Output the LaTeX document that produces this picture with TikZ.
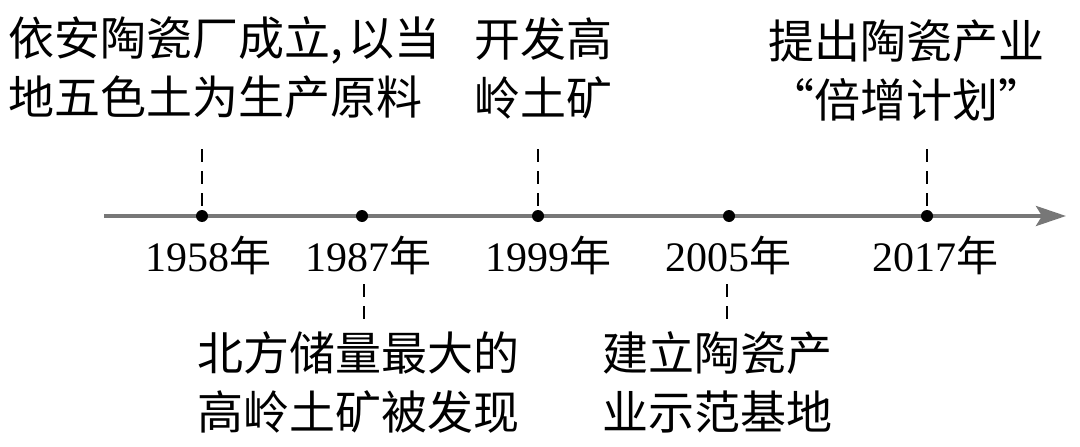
\documentclass[tikz,border=0pt]{standalone}
\usepackage{fontspec}
\setmainfont{Liberation Serif}
\newfontfamily\cjk{Noto Sans CJK SC}
\usetikzlibrary{arrows.meta}
\definecolor{axisgray}{HTML}{777777}
\begin{document}
\begin{tikzpicture}[x=1pt,y=-1pt,
  lbl/.style={font=\cjk\fontsize{46}{59}\selectfont, align=center, inner sep=0pt},
  yr/.style={font=\fontsize{42}{48}\selectfont, inner sep=0pt},
  dotmark/.style={circle, fill=black, inner sep=0pt, minimum size=12pt},
  guide/.style={dash pattern=on 13pt off 9pt, line width=2pt}]
\useasboundingbox (0,0) rectangle (1080,447);
\coordinate (s) at (104,216);
\coordinate (e) at (1066,216);
\draw[line width=4pt, axisgray, -{Stealth[length=30pt, width=20pt, inset=6pt]}] (s) -- (e);
% dots
\node[dotmark] (d1) at (202,216) {};
\node[dotmark] (d2) at (362,216) {};
\node[dotmark] (d3) at (538,216) {};
\node[dotmark] (d4) at (729,216) {};
\node[dotmark] (d5) at (927,216) {};
% years
\node[yr] (y1) at (208,255) {1958{\cjk 年}};
\node[yr] (y2) at (368,255) {1987{\cjk 年}};
\node[yr] (y3) at (548,255) {1999{\cjk 年}};
\node[yr] (y4) at (728,255) {2005{\cjk 年}};
\node[yr] (y5) at (935,255) {2017{\cjk 年}};
% top labels
\node[lbl, align=left, anchor=west] (t1) at (8,68) {依安陶瓷厂成立,\kern6pt 以当\\地五色土为生产原料};
\node[lbl] (t3) at (543,68) {开发高\\岭土矿};
\node[lbl] (t5) at (906,70) {提出陶瓷产业\\“倍增计划”};
% bottom labels
\node[lbl] (b2) at (358,382) {北方储量最大的\\高岭土矿被发现};
\node[lbl] (b4) at (717,382) {建立陶瓷产\\业示范基地};
% guides
\coordinate (g1) at (202,149);
\coordinate (g3) at (538,149);
\coordinate (g5) at (927,149);
\coordinate (g2) at (364,320);
\coordinate (g4) at (727,320);
\coordinate (h2) at (364,284);
\coordinate (h4) at (727,284);
\draw[guide] (g1) -- (d1.center);
\draw[guide] (g3) -- (d3.center);
\draw[guide] (g5) -- (d5.center);
\draw[guide] (h2) -- (g2);
\draw[guide] (h4) -- (g4);
\end{tikzpicture}
\end{document}
